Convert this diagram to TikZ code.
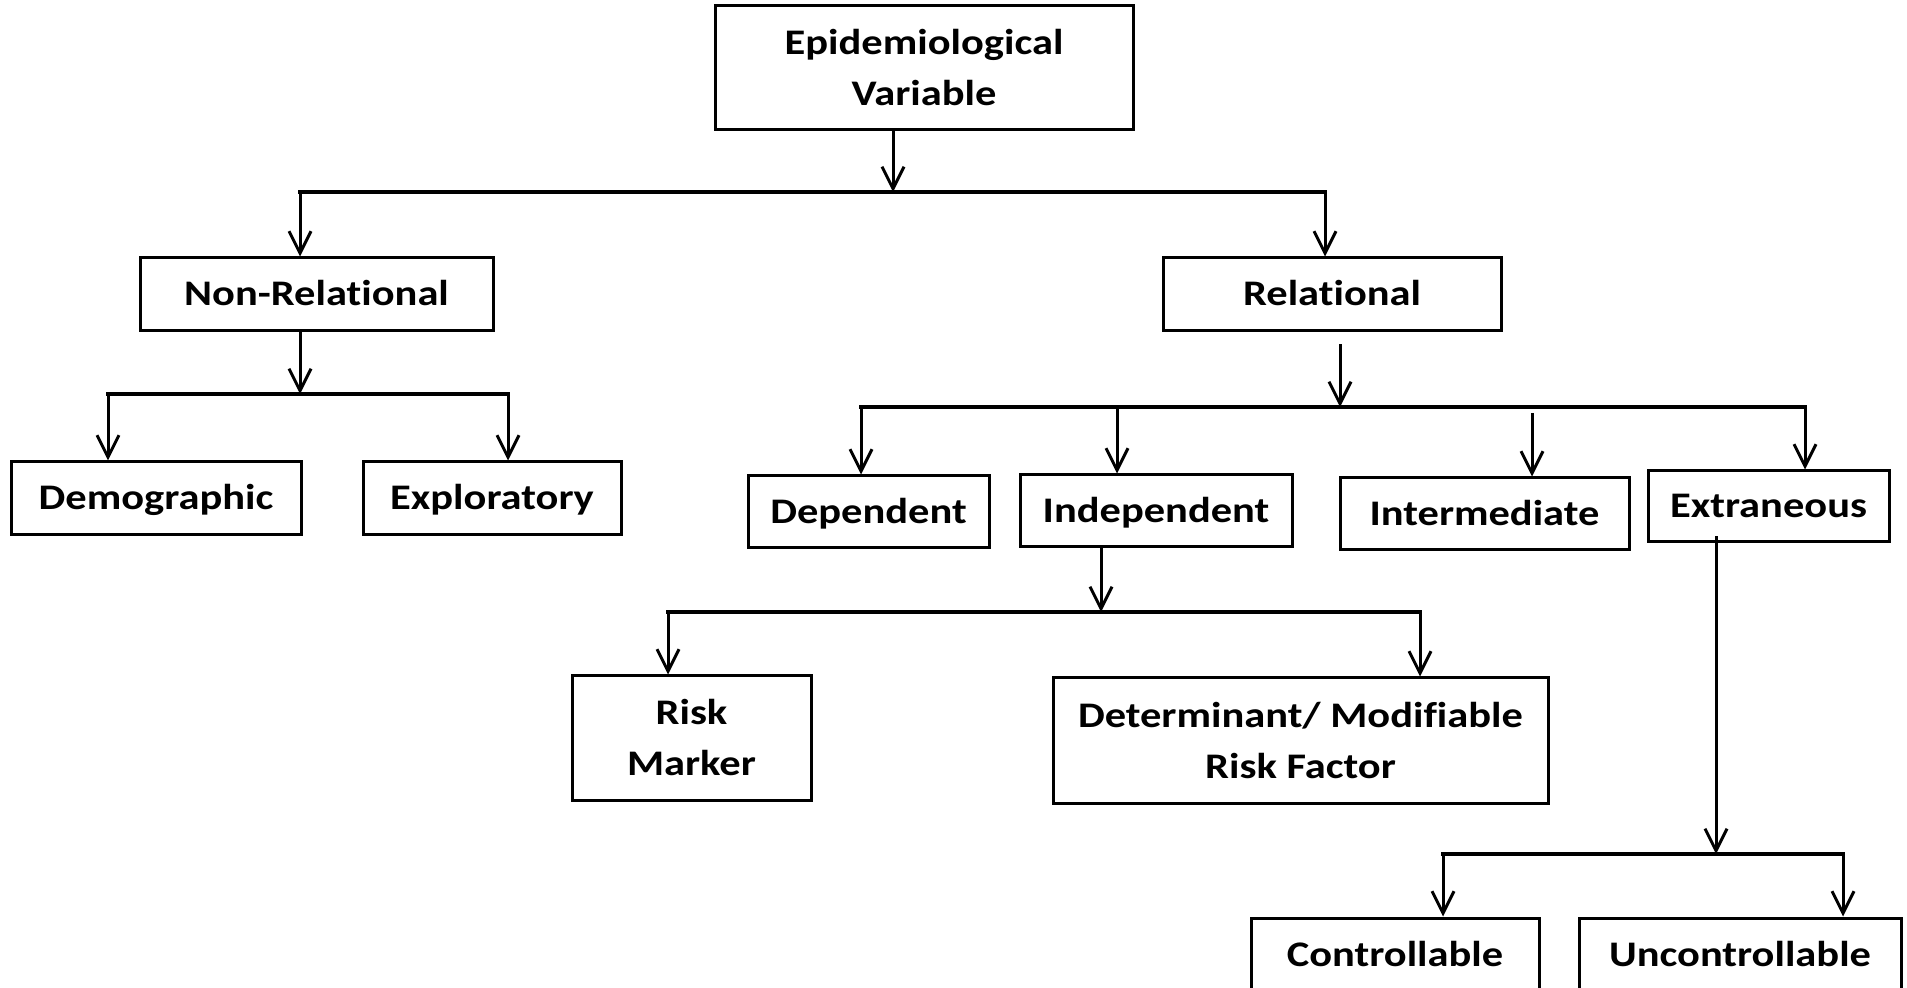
\documentclass[tikz,border=0pt]{standalone}
\usepackage{fontspec}
\setmainfont{Carlito}[FakeStretch=1.18,Ligatures=NoCommon]
\usetikzlibrary{arrows.meta}
\tikzset{
  box/.style={draw, line width=1.5pt, inner sep=0pt,
    font=\bfseries\fontsize{18}{25.5}\selectfont},
  oneline/.style={text height=14pt, text depth=2.5pt},
  twoline/.style={align=center},
  link/.style={line width=1.5pt,
    -{Straight Barb[length=11pt,width=11pt,line width=1.5pt]}},
  rail/.style={line width=2.1pt, line cap=rect}
}
\begin{document}
\begin{tikzpicture}[x=0.5pt,y=-0.5pt]
\useasboundingbox (0,0) rectangle (1907,988);
\fill[white] (0,0) rectangle (1907,988);
\clip (0,0) rectangle (1907,988);

% boxes
\node[box,twoline,minimum width=209pt,minimum height=62pt] (epi) at (924,68) {Epidemiological\\Variable};
\node[box,oneline,minimum width=176.5pt,minimum height=36.5pt] (nonrel) at (316.5,294.5) {Non-Relational};
\node[box,oneline,minimum width=169pt,minimum height=36.5pt] (rel) at (1332,294.5) {Relational};
\node[box,oneline,minimum width=145pt,minimum height=36.5pt] (demo) at (156,498.5) {Demographic};
\node[box,oneline,minimum width=129pt,minimum height=36.5pt] (explo) at (492,498.5) {Exploratory};
\node[box,oneline,minimum width=120.5pt,minimum height=36pt] (dep) at (868.5,512) {Dependent};
\node[box,oneline,minimum width=136pt,minimum height=36pt] (indep) at (1156,511) {Independent};
\node[box,oneline,minimum width=144.5pt,minimum height=36pt] (inter) at (1484.5,514) {Intermediate};
\node[box,oneline,minimum width=120.5pt,minimum height=35.5pt] (extr) at (1768.5,506.5) {Extraneous};
\node[box,twoline,minimum width=119.5pt,minimum height=62pt] (risk) at (691.5,738) {Risk\\Marker};
\node[box,twoline,minimum width=247.5pt,minimum height=62.5pt] (det) at (1300.5,740.5) {Determinant/ Modifiable\\Risk Factor};
\node[box,oneline,minimum width=144pt,minimum height=37pt] (ctrl) at (1395,955) {Controllable};
\node[box,oneline,minimum width=161pt,minimum height=37pt] (unctrl) at (1740,955) {Uncontrollable};

% junction points on the horizontal rails
\coordinate (b1l) at (300,192);  \coordinate (b1m) at (893,192);  \coordinate (b1r) at (1325,192);
\coordinate (b2l) at (108,394);  \coordinate (b2m) at (300,394);  \coordinate (b2r) at (508,394);
\coordinate (b3l) at (861,407);  \coordinate (b3a) at (1117,407); \coordinate (b3m) at (1340,407);
\coordinate (b3b) at (1532,413); \coordinate (b3r) at (1805,407);
\coordinate (b4l) at (668,612);  \coordinate (b4m) at (1101,612); \coordinate (b4r) at (1420,612);
\coordinate (b5l) at (1443,854); \coordinate (b5m) at (1716,854); \coordinate (b5r) at (1843,854);

% level 1
\draw[link] (epi.south -| b1m) -- (b1m);
\draw[rail] (b1l) -- (b1r);
\draw[link] (b1l) -- (b1l |- nonrel.north);
\draw[link] (b1r) -- (b1r |- rel.north);

% non-relational branch
\draw[link] (nonrel.south -| b2m) -- (b2m);
\draw[rail] (b2l) -- (b2r);
\draw[link] (b2l) -- (b2l |- demo.north);
\draw[link] (b2r) -- (b2r |- explo.north);

% relational branch
\draw[link] ([yshift=-6pt]rel.south -| b3m) -- (b3m);
\draw[rail] (b3l) -- (b3r);
\draw[link] (b3l) -- (b3l |- dep.north);
\draw[link] (b3a) -- (b3a |- indep.north);
\draw[link] (b3b) -- (b3b |- inter.north);
\draw[link] (b3r) -- (b3r |- extr.north);

% independent branch
\draw[link] (indep.south -| b4m) -- (b4m);
\draw[rail] (b4l) -- (b4r);
\draw[link] (b4l) -- (b4l |- risk.north);
\draw[link] (b4r) -- (b4r |- det.north);

% extraneous branch
\draw[link] ([yshift=3.5pt]extr.south -| b5m) -- (b5m);
\draw[rail] (b5l) -- (b5r);
\draw[link] (b5l) -- (b5l |- ctrl.north);
\draw[link] (b5r) -- (b5r |- unctrl.north);
\end{tikzpicture}
\end{document}
